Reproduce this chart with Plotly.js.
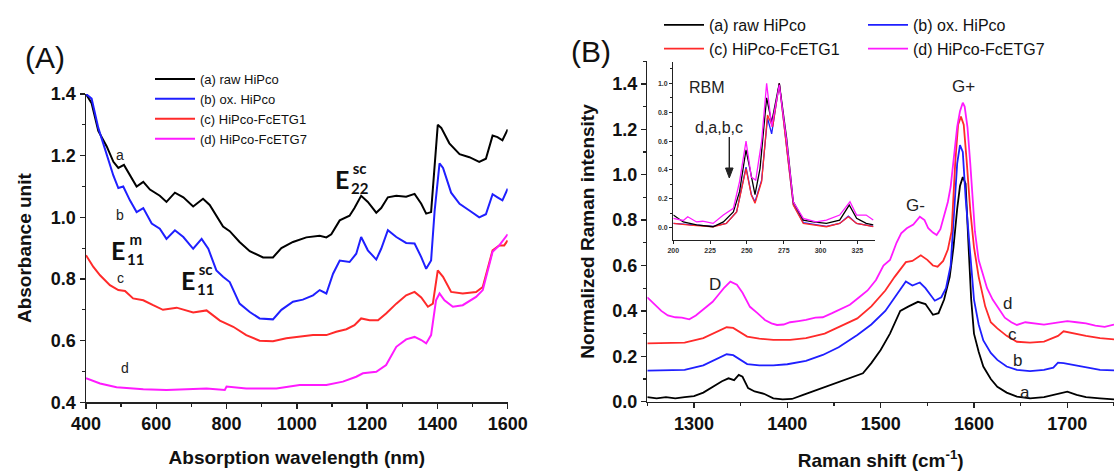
<!DOCTYPE html>
<html>
<head>
<meta charset="utf-8">
<script src="https://cdn.plot.ly/plotly-3.0.1.min.js"></script>
<style>html,body{margin:0;padding:0;background:#fff;}#chart{width:1114px;height:475px;}</style>
</head>
<body>
<div id="chart"></div>
<script>
// ---------- Panel A: absorption spectra ----------
const wlA_a = [400,416,435,459,478,492,508,525,544,563,582,610,629,653,677,705,733,752,790,809,837,866,904,932,956,989,1027,1065,1084,1098,1122,1150,1164,1183,1202,1226,1240,1259,1283,1311,1335,1354,1368,1382,1392,1401,1411,1434,1463,1491,1519,1538,1557,1571,1585,1600];
const absA_a = [1.40,1.37,1.28,1.23,1.18,1.16,1.17,1.135,1.10,1.115,1.09,1.07,1.05,1.08,1.065,1.035,1.06,1.04,0.97,0.955,0.92,0.89,0.87,0.87,0.90,0.92,0.935,0.94,0.935,0.945,0.99,1.005,1.03,1.07,1.05,1.015,1.03,1.065,1.07,1.067,1.076,1.044,1.012,1.017,1.18,1.30,1.29,1.24,1.205,1.195,1.18,1.19,1.265,1.26,1.25,1.285];
const wlA_b = [400,416,435,459,478,492,506,525,544,563,587,610,629,653,677,705,729,748,771,790,809,837,866,894,932,956,989,1017,1046,1065,1084,1103,1122,1150,1169,1183,1202,1226,1240,1259,1283,1311,1335,1354,1368,1382,1392,1406,1416,1439,1463,1491,1519,1538,1557,1571,1585,1600];
const absA_b = [1.40,1.385,1.29,1.205,1.135,1.095,1.10,1.055,1.017,1.03,0.98,0.963,0.93,0.958,0.936,0.898,0.93,0.898,0.828,0.807,0.79,0.72,0.693,0.672,0.669,0.70,0.726,0.733,0.747,0.764,0.753,0.817,0.86,0.855,0.882,0.936,0.893,0.863,0.898,0.958,0.936,0.917,0.915,0.871,0.833,0.86,1.02,1.175,1.16,1.08,1.044,1.022,1.0,1.01,1.075,1.065,1.055,1.093];
const wlA_c = [400,421,440,468,492,511,534,563,591,619,658,705,743,781,819,856,894,932,970,1008,1046,1084,1112,1141,1164,1183,1207,1231,1254,1283,1311,1335,1354,1373,1387,1401,1416,1439,1472,1510,1529,1557,1576,1590,1600];
const absA_c = [0.877,0.839,0.812,0.78,0.764,0.761,0.737,0.731,0.715,0.70,0.707,0.691,0.698,0.665,0.645,0.618,0.60,0.598,0.608,0.613,0.618,0.618,0.629,0.637,0.65,0.672,0.666,0.666,0.688,0.72,0.747,0.758,0.74,0.71,0.72,0.828,0.807,0.758,0.753,0.758,0.774,0.893,0.909,0.909,0.925];
const wlA_d = [400,440,487,563,629,705,743,795,800,856,942,1008,1084,1131,1169,1188,1226,1254,1283,1311,1335,1354,1368,1382,1396,1406,1420,1444,1472,1510,1529,1557,1576,1600];
const absA_d = [0.478,0.461,0.449,0.442,0.44,0.442,0.445,0.44,0.451,0.445,0.445,0.456,0.456,0.467,0.483,0.494,0.499,0.521,0.58,0.604,0.612,0.602,0.591,0.618,0.731,0.753,0.731,0.71,0.715,0.742,0.764,0.888,0.909,0.945];

// ---------- Panel B: Raman spectra ----------
const ramB_a = [1250,1260,1270,1280,1290,1300,1310,1320,1330,1337,1343,1348,1352,1358,1365,1375,1385,1395,1405,1417,1430,1440,1450,1460,1470,1481,1490,1500,1510,1521,1530,1540,1548,1556,1562,1568,1574,1578,1582,1585,1588,1591,1594,1597,1600,1605,1610,1618,1625,1635,1646,1660,1675,1689,1700,1710,1720,1735,1750];
const intB_a = [0.02,0.015,0.02,0.015,0.02,0.025,0.04,0.065,0.09,0.103,0.095,0.118,0.11,0.06,0.045,0.035,0.015,0.01,0.012,0.03,0.05,0.065,0.08,0.095,0.11,0.125,0.17,0.228,0.30,0.40,0.42,0.44,0.43,0.383,0.39,0.45,0.55,0.68,0.85,0.95,0.99,0.96,0.70,0.45,0.30,0.22,0.155,0.10,0.066,0.04,0.022,0.015,0.02,0.035,0.044,0.03,0.02,0.015,0.01];
const ramB_b = [1250,1270,1290,1310,1325,1335,1342,1350,1357,1370,1385,1400,1420,1438,1455,1475,1490,1505,1515,1527,1534,1542,1548,1553,1558,1565,1570,1575,1579,1582,1585,1588,1591,1593,1596,1600,1605,1610,1618,1625,1635,1646,1660,1675,1685,1690,1696,1707,1720,1735,1750];
const intB_b = [0.137,0.137,0.14,0.16,0.19,0.209,0.205,0.185,0.166,0.16,0.16,0.165,0.18,0.206,0.24,0.294,0.34,0.40,0.46,0.53,0.512,0.525,0.50,0.47,0.445,0.46,0.50,0.60,0.85,1.05,1.13,1.10,0.90,0.80,0.62,0.45,0.34,0.27,0.215,0.184,0.155,0.14,0.135,0.14,0.15,0.172,0.17,0.162,0.15,0.14,0.138];
const ramB_c = [1250,1270,1290,1310,1325,1335,1342,1350,1357,1370,1385,1403,1420,1440,1458,1475,1490,1505,1515,1527,1534,1543,1550,1556,1561,1567,1572,1576,1580,1583,1586,1589,1592,1596,1600,1605,1612,1618,1625,1635,1646,1660,1675,1685,1690,1696,1707,1720,1735,1750];
const intB_c = [0.257,0.257,0.26,0.28,0.31,0.328,0.325,0.305,0.287,0.278,0.272,0.272,0.28,0.30,0.335,0.367,0.42,0.49,0.55,0.615,0.62,0.645,0.625,0.60,0.595,0.62,0.67,0.75,1.06,1.22,1.256,1.22,1.07,0.844,0.68,0.55,0.42,0.35,0.323,0.29,0.264,0.26,0.265,0.28,0.29,0.31,0.30,0.29,0.28,0.275];
const ramB_d = [1250,1258,1265,1272,1280,1287,1295,1302,1308,1314,1320,1326,1332,1339,1346,1352,1360,1368,1376,1383,1389,1396,1403,1412,1420,1430,1438,1448,1458,1467,1477,1486,1495,1503,1510,1517,1522,1528,1535,1542,1547,1551,1556,1560,1564,1568,1572,1575,1579,1582,1585,1588,1590,1593,1596,1598,1601,1605,1610,1614,1620,1628,1633,1640,1646,1655,1665,1675,1689,1700,1710,1720,1730,1740,1750];
const intB_d = [0.46,0.43,0.40,0.38,0.372,0.37,0.363,0.38,0.40,0.418,0.44,0.47,0.50,0.529,0.515,0.48,0.418,0.39,0.36,0.345,0.338,0.34,0.35,0.355,0.36,0.37,0.372,0.39,0.41,0.427,0.46,0.49,0.536,0.60,0.624,0.70,0.742,0.764,0.78,0.815,0.80,0.764,0.745,0.734,0.76,0.815,0.88,0.947,1.10,1.211,1.28,1.317,1.30,1.21,1.05,0.918,0.75,0.624,0.55,0.50,0.45,0.40,0.37,0.35,0.338,0.35,0.345,0.34,0.348,0.355,0.35,0.345,0.335,0.33,0.34];

// ---------- Inset: RBM region ----------
const rbmX_a = [200,206.8,215.8,227,234,240.8,245,249.4,252,255.5,258.9,263.4,266.8,272,277,281.5,288.3,295,304,313,319.5,324.5,331,335.8];
const rbmY_a = [0.088,0.04,0.02,0.007,0.04,0.11,0.25,0.54,0.41,0.23,0.41,0.90,0.73,1.0,0.62,0.18,0.053,0.04,0.03,0.053,0.157,0.065,0.03,0.02];
const rbmX_b = [200,211.3,227,236,243,249.4,253,255.5,260,264,266.8,272,277,281.5,288.3,304,313,318.9,324.5,335.8];
const rbmY_b = [0.03,0.02,0.01,0.03,0.11,0.42,0.23,0.18,0.33,0.76,0.65,1.0,0.56,0.16,0.035,0.01,0.03,0.08,0.03,0.01];
const rbmX_c = [200,211.3,227,236,243,249.4,253,255.5,260,264,267.5,272,277,281.5,288.3,304,313,318.9,324.5,335.8];
const rbmY_c = [0.03,0.018,0.007,0.03,0.11,0.41,0.226,0.17,0.32,0.78,0.70,1.0,0.55,0.157,0.03,0.007,0.03,0.076,0.03,0.007];
const rbmX_d = [200,206.8,209.8,215.8,220,227,234,240.8,245,249.4,253,256,260,263.4,266.8,272,277,281.5,288.3,297,304,313,320,324.5,331,335.8];
const rbmY_d = [0.065,0.05,0.076,0.04,0.045,0.03,0.088,0.134,0.32,0.60,0.35,0.33,0.60,1.0,0.70,0.99,0.60,0.18,0.065,0.04,0.053,0.088,0.18,0.088,0.088,0.053];

const seriesNames = ['(a) raw HiPco','(b) ox. HiPco','(c) HiPco-FcETG1','(d) HiPco-FcETG7'];
const seriesColors = ['#000000','#1f1fff','#ff2a2a','#ff1aff'];

// ---------- helpers ----------
const W = 1114, H = 475;
const px = x => x / W;
const py = y => 1 - y / H;
const FONT = 'Liberation Sans, Arial, sans-serif';

function line(x, y, i, xa, ya, legend, showlegend, w) {
  return {x: x, y: y, type: 'scatter', mode: 'lines', name: seriesNames[i],
    xaxis: xa, yaxis: ya, legend: legend, showlegend: showlegend,
    line: {color: seriesColors[i], width: w}, hoverinfo: 'skip'};
}

const traces = [
  line(wlA_a, absA_a, 0, 'x', 'y', 'legend', true, 2),
  line(wlA_b, absA_b, 1, 'x', 'y', 'legend', true, 2),
  line(wlA_c, absA_c, 2, 'x', 'y', 'legend', true, 2),
  line(wlA_d, absA_d, 3, 'x', 'y', 'legend', true, 2),
  line(ramB_a, intB_a, 0, 'x2', 'y2', 'legend2', true, 1.8),
  line(ramB_b, intB_b, 1, 'x2', 'y2', 'legend3', true, 1.8),
  line(ramB_c, intB_c, 2, 'x2', 'y2', 'legend2', true, 1.8),
  line(ramB_d, intB_d, 3, 'x2', 'y2', 'legend3', true, 1.8),
  line(rbmX_b, rbmY_b, 1, 'x3', 'y3', 'legend', false, 1.3),
  line(rbmX_c, rbmY_c, 2, 'x3', 'y3', 'legend', false, 1.3),
  line(rbmX_a, rbmY_a, 0, 'x3', 'y3', 'legend', false, 1.3),
  line(rbmX_d, rbmY_d, 3, 'x3', 'y3', 'legend', false, 1.3)
];

const tickFont = {family: FONT, size: 18, weight: 'bold', color: '#111'};
const titleFont = {family: FONT, size: 19, weight: 'bold', color: '#111'};
const axBase = {showline: true, linecolor: '#222', linewidth: 1.5, ticks: 'outside', ticklen: 5,
  tickwidth: 1.3, tickcolor: '#222', showgrid: false, zeroline: false, mirror: false};

const layout = {
  width: W, height: H,
  margin: {l: 0, r: 0, t: 0, b: 0},
  paper_bgcolor: '#fff', plot_bgcolor: 'rgba(0,0,0,0)',
  showlegend: true,
  xaxis: Object.assign({}, axBase, {domain: [px(86), px(507.7)], range: [400, 1600], anchor: 'y',
    tick0: 400, dtick: 200, tickfont: tickFont,
    minor: {dtick: 100, ticks: 'outside', ticklen: 3, tickcolor: '#222'},
    title: {text: 'Absorption wavelength (nm)', font: titleFont, standoff: 17}}),
  yaxis: Object.assign({}, axBase, {domain: [py(402.3), py(94)], range: [0.4, 1.4], anchor: 'x',
    tick0: 0.4, dtick: 0.2, tickformat: '.1f', tickfont: tickFont,
    minor: {dtick: 0.1, ticks: 'outside', ticklen: 3, tickcolor: '#222'},
    title: {text: 'Absorbance unit', font: titleFont, standoff: 14}}),
  xaxis2: Object.assign({}, axBase, {domain: [px(647.3), 1], range: [1250, 1750], anchor: 'y2',
    tick0: 1300, dtick: 100, tickfont: tickFont,
    minor: {dtick: 50, ticks: 'outside', ticklen: 3, tickcolor: '#222'},
    title: {text: 'Raman shift (cm<sup>-1</sup>)', font: titleFont, standoff: 21}}),
  yaxis2: Object.assign({}, axBase, {domain: [py(401.7), py(61.2)], range: [0, 1.5], anchor: 'x2',
    tick0: 0, dtick: 0.2, tickformat: '.1f', tickfont: tickFont,
    minor: {dtick: 0.1, ticks: 'outside', ticklen: 3, tickcolor: '#222'},
    title: {text: 'Normalized Raman intensity', font: titleFont, standoff: 12}}),
  xaxis3: Object.assign({}, axBase, {domain: [px(673.3), px(875)], range: [200, 337], anchor: 'y3',
    linewidth: 1.2, ticklen: 3, tickwidth: 1, tick0: 200, dtick: 25,
    tickfont: {family: FONT, size: 7, weight: 'bold', color: '#333'}}),
  yaxis3: Object.assign({}, axBase, {domain: [py(240), py(62)], range: [-0.085, 1.148], anchor: 'x3',
    linewidth: 1.2, ticklen: 3, tickwidth: 1, tick0: 0, dtick: 0.2, tickformat: '.1f',
    tickfont: {family: FONT, size: 7, weight: 'bold', color: '#333'},
    minor: {dtick: 0.1, ticks: 'outside', ticklen: 2, tickcolor: '#222'}}),
  legend: {x: px(150), y: py(64), xanchor: 'left', yanchor: 'top', bgcolor: 'rgba(0,0,0,0)',
    font: {family: FONT, size: 13, color: '#111'}, itemwidth: 40, tracegroupgap: 0},
  legend2: {x: px(659), y: py(8), xanchor: 'left', yanchor: 'top', bgcolor: 'rgba(0,0,0,0)',
    font: {family: FONT, size: 16, color: '#111'}, itemwidth: 40, tracegroupgap: 0},
  legend3: {x: px(863), y: py(8), xanchor: 'left', yanchor: 'top', bgcolor: 'rgba(0,0,0,0)',
    font: {family: FONT, size: 16, color: '#111'}, itemwidth: 40, tracegroupgap: 0},
  annotations: [],
  shapes: [
    // arrow in the inset pointing at the 240 cm-1 feature
    {type: 'line', xref: 'paper', yref: 'paper', x0: px(729.3), x1: px(729.3), y0: py(137), y1: py(170),
      line: {color: '#222', width: 1.4}},
    {type: 'path', xref: 'paper', yref: 'paper',
      path: 'M ' + px(725.5) + ' ' + py(168) + ' L ' + px(733.1) + ' ' + py(168) + ' L ' + px(729.3) + ' ' + py(178) + ' Z',
      fillcolor: '#222', line: {color: '#222', width: 1}}
  ]
};

function txt(x, y, t, size, opts) {
  layout.annotations.push(Object.assign({xref: 'paper', yref: 'paper', x: px(x), y: py(y),
    xanchor: 'center', yanchor: 'middle', text: t, showarrow: false,
    font: {family: FONT, size: size, color: '#222'}}, opts || {}));
}
const EF = 'Lato, Liberation Sans, sans-serif';
function eLabel(x, y, sup, sub) {
  // big E ending at x, stacked super/subscript starting at x
  txt(x, y, 'E', 25, {xanchor: 'right', borderpad: 0, font: {family: EF, size: 25, weight: 'bold', color: '#111'}});
  txt(x, y - 1, sup + '<br>' + sub, 15, {xanchor: 'left', borderpad: 0,
    font: {family: EF, size: 15, weight: 'bold', color: '#111'}});
}

// panel letters
txt(45, 57, '(A)', 30, {font: {family: FONT, size: 30, color: '#111'}});
txt(591, 52, '(B)', 30, {font: {family: FONT, size: 30, color: '#111'}});
// panel A curve labels
txt(120, 155, 'a', 14); txt(120, 215, 'b', 14); txt(120, 278, 'c', 14); txt(125, 368, 'd', 14);
eLabel(126, 250, 'm', '11');
eLabel(196, 280, 'sc', '11');
eLabel(350, 179, 'sc', '22');
// panel B labels
txt(714.5, 284, 'D', 17); txt(915, 205, 'G-', 17); txt(964, 87, 'G+', 17);
txt(1007, 303, 'd', 17); txt(1012, 334, 'c', 17); txt(1017, 360, 'b', 17); txt(1025, 392, 'a', 17);
// inset labels
txt(707, 88, 'RBM', 16); txt(719, 127, 'd,a,b,c', 16);

Plotly.newPlot('chart', traces, layout, {displayModeBar: false, staticPlot: true});
</script>
</body>
</html>
